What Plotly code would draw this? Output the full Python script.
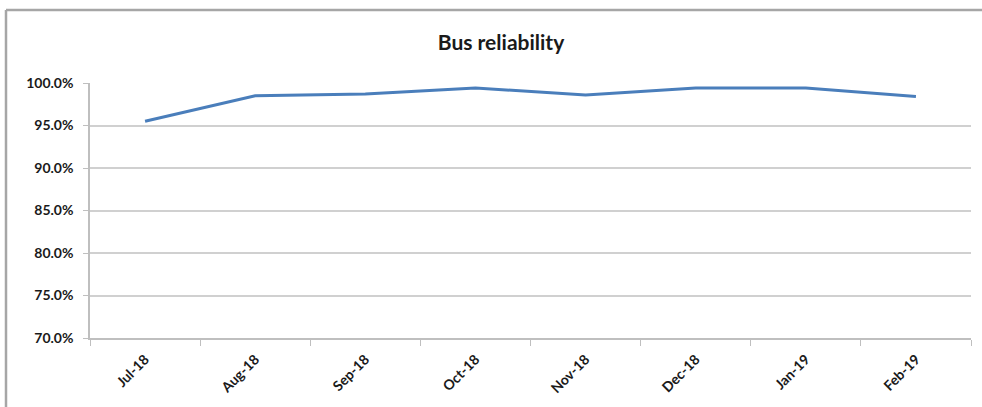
import plotly.graph_objects as go

# Monthly bus reliability
months = ["Jul-18", "Aug-18", "Sep-18", "Oct-18", "Nov-18", "Dec-18", "Jan-19", "Feb-19"]
reliability = [0.955, 0.985, 0.987, 0.994, 0.986, 0.994, 0.994, 0.984]
y_ticks = [0.70, 0.75, 0.80, 0.85, 0.90, 0.95, 1.00]

W, H = 982, 407
L, R, T, B = 90, 11, 83, 69
pw, ph = W - L - R, H - T - B

fig = go.Figure(
    go.Scatter(
        x=months,
        y=reliability,
        mode="lines",
        line=dict(color="#4A7EBB", width=3),
        hoverinfo="x+y",
    )
)

# Chart frame: left and top edges of the chart border
fx = (6 - L) / pw
fy = 1 + (T - 10) / ph
fig.add_shape(type="line", xref="paper", yref="paper", x0=fx, x1=fx, y0=-0.5, y1=fy,
              line=dict(color="#A6A6A6", width=2.5))
fig.add_shape(type="line", xref="paper", yref="paper", x0=fx, x1=1.2, y0=fy, y1=fy,
              line=dict(color="#A6A6A6", width=2.5))

font_family = "Lato, 'Open Sans', sans-serif"

fig.update_layout(
    width=W,
    height=H,
    margin=dict(l=L, r=R, t=T, b=B),
    paper_bgcolor="white",
    plot_bgcolor="white",
    showlegend=False,
    title=dict(
        text="<b>Bus reliability</b>",
        x=(501) / W,
        xanchor="center",
        y=1 - 43 / H,
        yanchor="middle",
        font=dict(family=font_family, size=21, color="#1a1a1a"),
    ),
    xaxis=dict(
        type="category",
        range=[-0.5, len(months) - 0.5],
        showgrid=False,
        showline=True,
        linecolor="#BFBFBF",
        linewidth=1.5,
        ticks="outside",
        tickson="boundaries",
        ticklen=6,
        tickcolor="#BFBFBF",
        tickangle=-45,
        ticklabelstandoff=6,
        tickfont=dict(family=font_family, size=14, color="#1a1a1a", weight="bold"),
        zeroline=False,
    ),
    yaxis=dict(
        range=[0.70, 1.00],
        tickvals=y_ticks,
        tickformat=".1%",
        showgrid=True,
        gridcolor="#D0D0D0",
        gridwidth=1.5,
        showline=True,
        linecolor="#BFBFBF",
        linewidth=1.5,
        ticks="outside",
        ticklen=5,
        tickcolor="#BFBFBF",
        ticklabelstandoff=7,
        tickfont=dict(family=font_family, size=14, color="#1a1a1a", weight="bold"),
        zeroline=False,
    ),
)

fig.write_html("out.html")
